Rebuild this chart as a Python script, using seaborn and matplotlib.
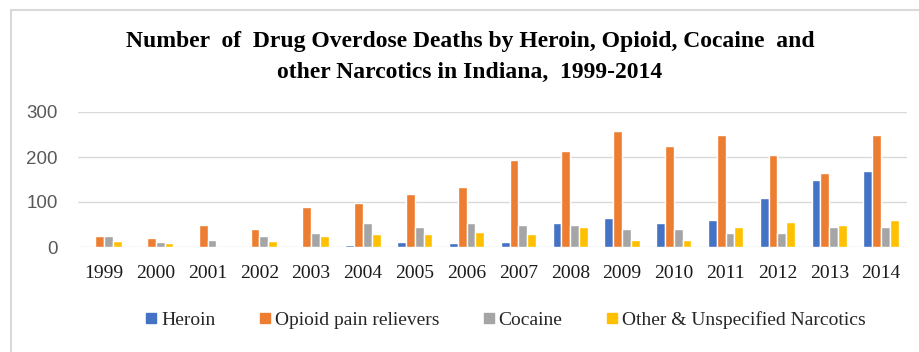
import numpy as np
import pandas as pd
import matplotlib
matplotlib.use("Agg")
import matplotlib.pyplot as plt
from matplotlib.lines import Line2D
import seaborn as sns

years = ["1999", "2000", "2001", "2002", "2003", "2004", "2005", "2006",
         "2007", "2008", "2009", "2010", "2011", "2012", "2013", "2014"]
series = ["Heroin", "Opioid pain relievers", "Cocaine", "Other & Unspecified Narcotics"]
heroin = [0, 0, 0, 0, 0, 5, 12, 8, 12, 53, 64, 53, 61, 109, 149, 169]
opioid = [25, 20, 48, 41, 89, 97, 117, 133, 193, 213, 257, 225, 249, 205, 164, 249]
cocaine = [25, 12, 16, 25, 32, 53, 44, 53, 48, 48, 41, 41, 32, 32, 44, 44]
other = [13, 9, 0, 13, 24, 28, 28, 33, 28, 45, 16, 16, 44, 56, 48, 61]
colors = ["#4472C4", "#ED7D31", "#A5A5A5", "#FFC000"]

df = pd.DataFrame({
    "year": years * 4,
    "series": np.repeat(series, len(years)),
    "deaths": heroin + opioid + cocaine + other,
})

sns.set_theme(style="white")
plt.rcParams["font.family"] = ["Liberation Serif", "DejaVu Serif"]

fig = plt.figure(figsize=(9.19, 3.52), dpi=100)
ax = fig.add_axes([78 / 919, 1 - 247 / 352, (907 - 78) / 919, (247 - 112) / 352])

sns.barplot(data=df, x="year", y="deaths", hue="series", hue_order=series,
            palette=colors, width=0.68, gap=0, saturation=1, ax=ax,
            legend=False, errorbar=None)

ax.set_ylim(0, 300)
ax.set_yticks([0, 100, 200, 300])
ax.yaxis.grid(True, color="#d9d9d9", linewidth=1.0)
ax.set_axisbelow(True)
for s in ax.spines.values():
    s.set_visible(False)
ax.set_xlabel("")
ax.set_ylabel("")
ax.tick_params(axis="both", length=0)
ax.tick_params(axis="y", pad=14.5, colors="#595959")
ax.tick_params(axis="x", pad=13)
for lbl in ax.get_yticklabels():
    lbl.set_fontfamily(["Liberation Sans", "DejaVu Sans"])
    lbl.set_fontsize(13.5)
for lbl in ax.get_xticklabels():
    lbl.set_fontsize(14)
    lbl.set_color("#1a1a1a")

fig.text(470 / 919, 1 - 42 / 352,
         "Number  of  Drug Overdose Deaths by Heroin, Opioid, Cocaine  and",
         ha="center", va="center", fontsize=17, fontweight="bold", color="black")
fig.text(470 / 919, 1 - 72 / 352,
         "other Narcotics in Indiana,  1999-2014",
         ha="center", va="center", fontsize=17, fontweight="bold", color="black")

handles = [Line2D([], [], marker="s", linestyle="none", markersize=7,
                  markerfacecolor=c, markeredgecolor=c) for c in colors]
fig.legend(handles, series, loc="center", bbox_to_anchor=(505 / 919, 1 - 320 / 352),
           ncol=4, frameon=False, fontsize=14, handlelength=0.7,
           handletextpad=0.15, columnspacing=2.2, borderpad=0)

# light chart-area border along the top and left edges
fig.add_artist(Line2D([11 / 919, 1], [1 - 10 / 352] * 2, color="#d9d9d9", lw=1.5,
                      transform=fig.transFigure))
fig.add_artist(Line2D([11 / 919] * 2, [0, 1 - 10 / 352], color="#d9d9d9", lw=1.5,
                      transform=fig.transFigure))

fig.savefig("out.png", dpi=100, facecolor="white")
